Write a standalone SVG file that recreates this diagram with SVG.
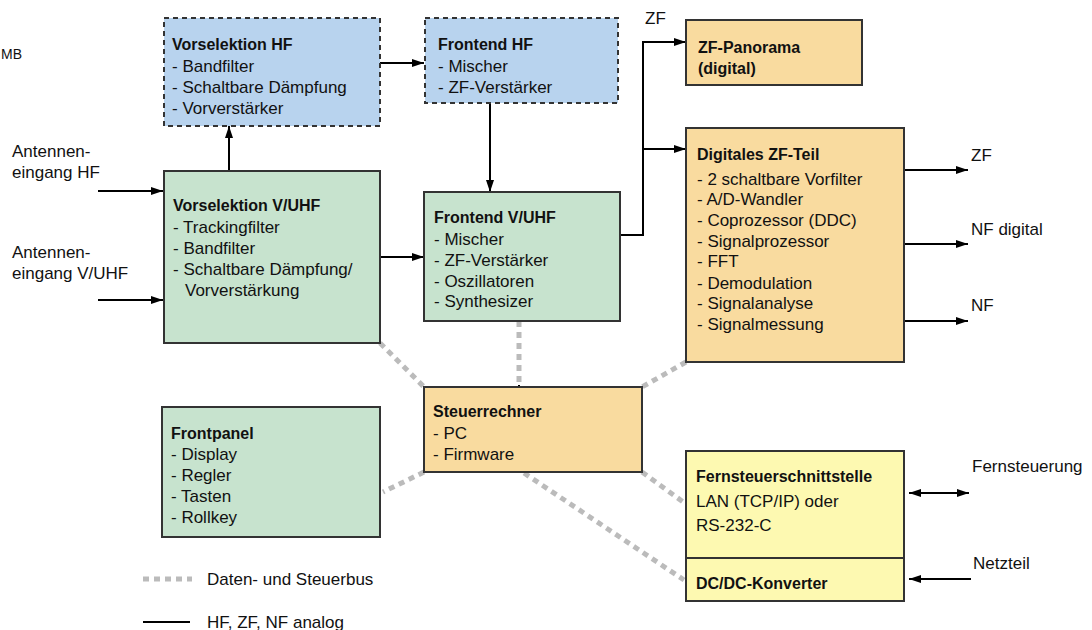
<svg xmlns="http://www.w3.org/2000/svg" width="1092" height="630" viewBox="0 0 1092 630">
<defs>
<style>
text{font-family:"Liberation Sans",Arial,sans-serif;font-size:17px;fill:#111}
.t{font-weight:bold;font-size:16px}
.box{stroke:#333;stroke-width:2}
.dash{stroke-dasharray:5 4}
.blue{fill:#b8d3ee}
.green{fill:#c7e3ce}
.orange{fill:#f9db9f}
.yellow{fill:#fdf9b1}
.wire{fill:none;stroke:#000;stroke-width:2}
.bus{fill:none;stroke:#bbb;stroke-width:5;stroke-dasharray:6 5}
</style>
<marker id="ah" viewBox="0 0 12 8" refX="12" refY="4" markerWidth="13" markerHeight="8" markerUnits="userSpaceOnUse" orient="auto-start-reverse">
<path d="M0,0L12,4L0,8z" fill="#000"/>
</marker>
</defs>
<rect width="1092" height="630" fill="#fff"/>
<text x="1" y="59" style="font-size:14px">MB</text>

<g id="bus">
<path class="bus" d="M380,343L424,387"/>
<path class="bus" d="M519,321V385"/>
<path class="bus" d="M686,362L642,387"/>
<path class="bus" d="M424,472L383,492"/>
<path class="bus" d="M524,473L684,580"/>
<path class="bus" d="M642,472L686,504"/>
</g>

<g id="connectors">
<path class="wire" d="M98,191H163" marker-end="url(#ah)"/>
<path class="wire" d="M98,300H163" marker-end="url(#ah)"/>
<path class="wire" d="M229,171V126" marker-end="url(#ah)"/>
<path class="wire" d="M380,63H424" marker-end="url(#ah)"/>
<path class="wire" d="M490,103V192" marker-end="url(#ah)"/>
<path class="wire" d="M380,257H424" marker-end="url(#ah)"/>
<path class="wire" d="M620,235H643V42H686" marker-end="url(#ah)"/>
<path class="wire" d="M643,149H686" marker-end="url(#ah)"/>
<path class="wire" d="M904,170H968" marker-end="url(#ah)"/>
<path class="wire" d="M904,244H968" marker-end="url(#ah)"/>
<path class="wire" d="M904,321H968" marker-end="url(#ah)"/>
<path class="wire" d="M909,493H969" marker-start="url(#ah)" marker-end="url(#ah)"/>
<path class="wire" d="M971,579H909" marker-end="url(#ah)"/>
<path class="wire" d="M519,385V388"/>
</g>

<g id="labels">
<text x="12" y="157">Antennen-</text>
<text x="12" y="178">eingang HF</text>
<text x="12" y="258">Antennen-</text>
<text x="12" y="279">eingang V/UHF</text>
<text x="645" y="24">ZF</text>
<text x="971" y="161">ZF</text>
<text x="971" y="235">NF digital</text>
<text x="971" y="311">NF</text>
<text x="972" y="472">Fernsteuerung</text>
<text x="973" y="569">Netzteil</text>
</g>

<g id="vorsel-hf">
<rect class="box dash blue" x="164" y="18" width="216" height="108"/>
<text class="t" x="172" y="50">Vorselektion HF</text>
<text x="172" y="72">- Bandfilter</text>
<text x="172" y="93">- Schaltbare Dämpfung</text>
<text x="172" y="114">- Vorverstärker</text>
</g>

<g id="frontend-hf">
<rect class="box dash blue" x="425" y="18" width="193" height="85"/>
<text class="t" x="438" y="50">Frontend HF</text>
<text x="438" y="72">- Mischer</text>
<text x="438" y="93">- ZF-Verstärker</text>
</g>

<g id="zf-panorama">
<rect class="box orange" x="686" y="20" width="176" height="65"/>
<text class="t" x="698" y="53">ZF-Panorama</text>
<text class="t" x="698" y="74">(digital)</text>
</g>

<g id="digitales-zf">
<rect class="box orange" x="686" y="128" width="218" height="234"/>
<text class="t" x="697" y="160">Digitales ZF-Teil</text>
<text x="697" y="185">- 2 schaltbare Vorfilter</text>
<text x="697" y="205">- A/D-Wandler</text>
<text x="697" y="226">- Coprozessor (DDC)</text>
<text x="697" y="247">- Signalprozessor</text>
<text x="697" y="267">- FFT</text>
<text x="697" y="289">- Demodulation</text>
<text x="697" y="309">- Signalanalyse</text>
<text x="697" y="330">- Signalmessung</text>
</g>

<g id="vorsel-vuhf">
<rect class="box green" x="164" y="171" width="216" height="172"/>
<text class="t" x="173" y="211">Vorselektion V/UHF</text>
<text x="173" y="233">- Trackingfilter</text>
<text x="173" y="254">- Bandfilter</text>
<text x="173" y="275">- Schaltbare Dämpfung/</text>
<text x="185" y="296">Vorverstärkung</text>
</g>

<g id="frontend-vuhf">
<rect class="box green" x="424" y="192" width="196" height="129"/>
<text class="t" x="434" y="223">Frontend V/UHF</text>
<text x="434" y="245">- Mischer</text>
<text x="434" y="266">- ZF-Verstärker</text>
<text x="434" y="287">- Oszillatoren</text>
<text x="434" y="307">- Synthesizer</text>
</g>

<g id="steuerrechner">
<rect class="box orange" x="424" y="387" width="218" height="85"/>
<text class="t" x="433" y="417">Steuerrechner</text>
<text x="433" y="439">- PC</text>
<text x="433" y="460">- Firmware</text>
</g>

<g id="frontpanel">
<rect class="box green" x="162" y="407" width="218" height="130"/>
<text class="t" x="171" y="439">Frontpanel</text>
<text x="171" y="460">- Display</text>
<text x="171" y="481">- Regler</text>
<text x="171" y="502">- Tasten</text>
<text x="171" y="523">- Rollkey</text>
</g>

<g id="fernsteuer">
<rect class="box yellow" x="686" y="451" width="218" height="107"/>
<text class="t" x="696" y="482">Fernsteuerschnittstelle</text>
<text x="696" y="507">LAN (TCP/IP) oder</text>
<text x="696" y="531">RS-232-C</text>
</g>

<g id="dcdc">
<rect class="box yellow" x="686" y="558" width="218" height="43"/>
<text class="t" x="696" y="589">DC/DC-Konverter</text>
</g>

<g id="legend">
<path class="bus" d="M143,579H192"/>
<text x="207" y="585">Daten- und Steuerbus</text>
<path class="wire" d="M143,622H190"/>
<text x="207" y="628">HF, ZF, NF analog</text>
</g>
</svg>
